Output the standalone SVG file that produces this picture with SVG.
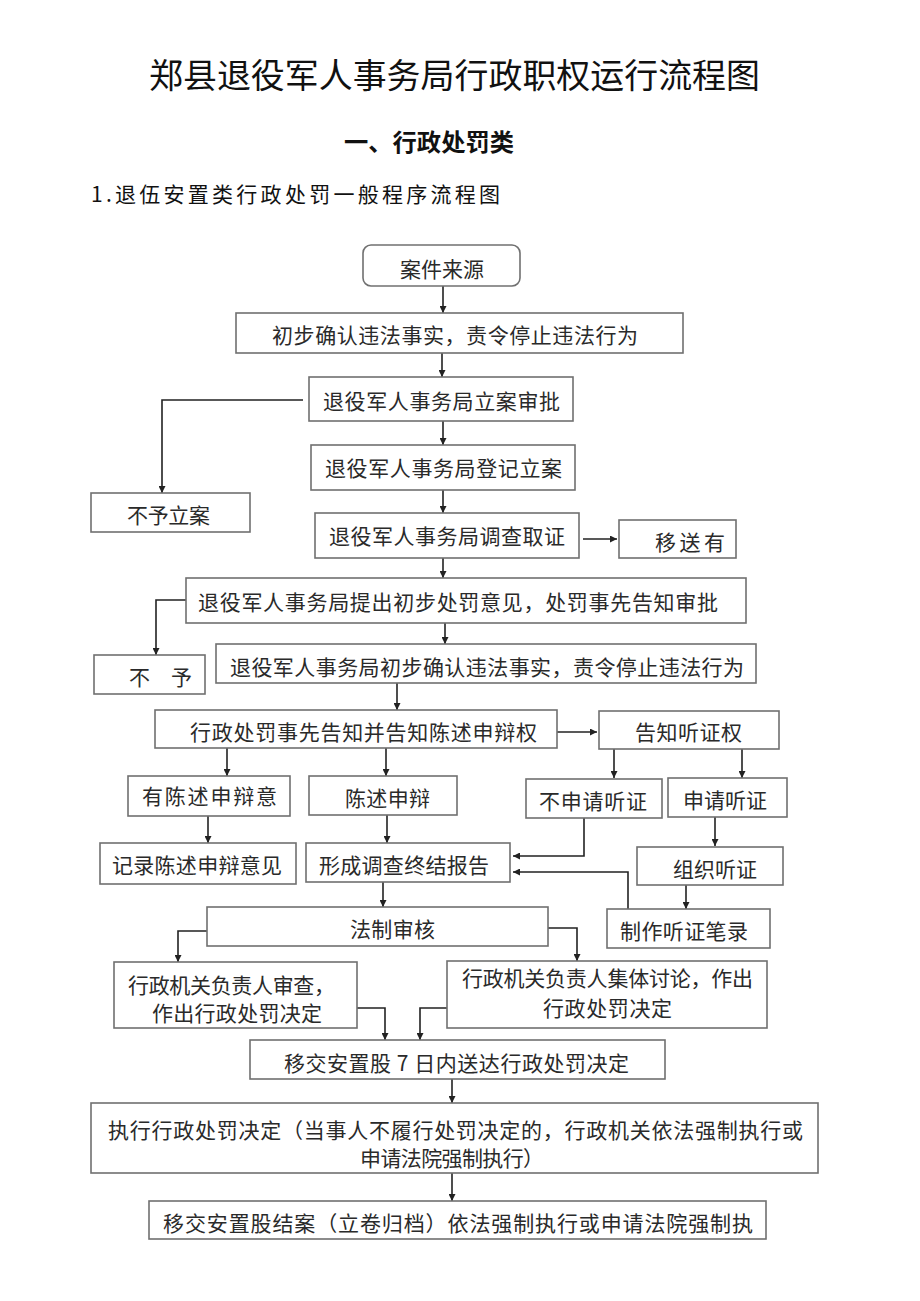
<svg xmlns="http://www.w3.org/2000/svg" width="920" height="1301" viewBox="0 0 920 1301">
<defs>
<marker id="ah" viewBox="0 0 10 10" refX="10" refY="5" markerWidth="10" markerHeight="7" markerUnits="userSpaceOnUse" orient="auto">
<path d="M0,0 L10,5 L0,10 z" fill="#222"/>
</marker>
<style>
.b{fill:#fff;stroke:#707070;stroke-width:1.6}
.t{font-family:"Noto Sans CJK SC","Noto Sans",sans-serif;font-size:21px;fill:#2a2a2a;dominant-baseline:central}
.c{stroke:#222;stroke-width:1.6;fill:none;marker-end:url(#ah)}
.h{font-family:"Noto Sans CJK SC","Noto Sans",sans-serif;fill:#111;dominant-baseline:central}
</style>
</defs>
<rect width="920" height="1301" fill="#fff"/>
<g id="title">
<text class="h" x="149" y="73" font-size="34" textLength="611" lengthAdjust="spacingAndGlyphs">郑县退役军人事务局行政职权运行流程图</text>
<text class="h" x="344" y="140" font-size="24" font-weight="bold" textLength="170" lengthAdjust="spacingAndGlyphs">一、行政处罚类</text>
<text class="h" x="91" y="193" font-size="21" textLength="409" lengthAdjust="spacing">1.退伍安置类行政处罚一般程序流程图</text>
</g>
<g id="connectors">
<path class="c" d="M443,286 V313"/>
<path class="c" d="M442,353 V377"/>
<path class="c" d="M303,400 H162 V493"/>
<path class="c" d="M443,421 V445"/>
<path class="c" d="M443,490 V513"/>
<path class="c" d="M583,539 H617"/>
<path class="c" d="M443,558 V578"/>
<path class="c" d="M186,600 H156 V655"/>
<path class="c" d="M445,623 V644"/>
<path class="c" d="M397,683 V710"/>
<path class="c" d="M557,732 H597"/>
<path class="c" d="M227,748 V776"/>
<path class="c" d="M386,748 V776"/>
<path class="c" d="M614,749 V778"/>
<path class="c" d="M742,749 V778"/>
<path class="c" d="M208,816 V843"/>
<path class="c" d="M387,815 V843"/>
<path class="c" d="M584,818 V856 H513"/>
<path class="c" d="M715,817 V846"/>
<path class="c" d="M686,885 V909"/>
<path class="c" d="M628,909 V872 H513"/>
<path class="c" d="M383,882 V907"/>
<path class="c" d="M207,931 H178 V962"/>
<path class="c" d="M548,928 H577 V961"/>
<path class="c" d="M357,1008 H385 V1040"/>
<path class="c" d="M448,1008 H420 V1040"/>
<path class="c" d="M452,1079 V1103"/>
<path class="c" d="M452,1173 V1201"/>
</g>
<g id="n1"><rect class="b" x="363" y="245" width="157" height="41" rx="8"/><text class="t" x="400" y="268" textLength="84">案件来源</text></g>
<g id="n2"><rect class="b" x="236" y="313" width="447" height="40"/><text class="t" x="272" y="334" textLength="366">初步确认违法事实，责令停止违法行为</text></g>
<g id="n3"><rect class="b" x="309" y="377" width="264" height="44"/><text class="t" x="323" y="400" textLength="237">退役军人事务局立案审批</text></g>
<g id="n4"><rect class="b" x="311" y="445" width="264" height="45"/><text class="t" x="325" y="467" textLength="237">退役军人事务局登记立案</text></g>
<g id="n5"><rect class="b" x="91" y="493" width="159" height="39"/><text class="t" x="127" y="514" textLength="83">不予立案</text></g>
<g id="n6"><rect class="b" x="315" y="513" width="264" height="45"/><text class="t" x="329" y="535" textLength="236">退役军人事务局调查取证</text></g>
<g id="n7"><rect class="b" x="619" y="520" width="117" height="38"/><text class="t" x="655" y="541" textLength="70">移送有</text></g>
<g id="n8"><rect class="b" x="186" y="578" width="560" height="45"/><text class="t" x="198" y="601" textLength="520">退役军人事务局提出初步处罚意见，处罚事先告知审批</text></g>
<g id="n9"><rect class="b" x="94" y="655" width="111" height="39"/><text class="t" x="129" y="676" textLength="63">不　予</text></g>
<g id="n10"><rect class="b" x="216" y="644" width="540" height="39"/><text class="t" x="230" y="666" textLength="514">退役军人事务局初步确认违法事实，责令停止违法行为</text></g>
<g id="n11"><rect class="b" x="155" y="710" width="402" height="38"/><text class="t" x="190" y="731" textLength="347">行政处罚事先告知并告知陈述申辩权</text></g>
<g id="n12"><rect class="b" x="599" y="711" width="180" height="38"/><text class="t" x="635" y="731" textLength="107">告知听证权</text></g>
<g id="n13"><rect class="b" x="128" y="776" width="162" height="40"/><text class="t" x="142" y="795" textLength="135">有陈述申辩意</text></g>
<g id="n14"><rect class="b" x="309" y="776" width="148" height="39"/><text class="t" x="345" y="797" textLength="85">陈述申辩</text></g>
<g id="n15"><rect class="b" x="526" y="779" width="136" height="39"/><text class="t" x="539" y="800" textLength="108">不申请听证</text></g>
<g id="n16"><rect class="b" x="668" y="778" width="119" height="39"/><text class="t" x="683" y="799" textLength="84">申请听证</text></g>
<g id="n17"><rect class="b" x="100" y="843" width="196" height="41"/><text class="t" x="112" y="864" textLength="170">记录陈述申辩意见</text></g>
<g id="n18"><rect class="b" x="306" y="843" width="204" height="39"/><text class="t" x="319" y="864" textLength="170">形成调查终结报告</text></g>
<g id="n19"><rect class="b" x="637" y="847" width="146" height="38"/><text class="t" x="673" y="868" textLength="84">组织听证</text></g>
<g id="n20"><rect class="b" x="207" y="907" width="341" height="39"/><text class="t" x="350" y="928" textLength="85">法制审核</text></g>
<g id="n21"><rect class="b" x="607" y="909" width="163" height="39"/><text class="t" x="620" y="930" textLength="128">制作听证笔录</text></g>
<g id="n22"><rect class="b" x="114" y="962" width="243" height="66"/><text class="t" x="128" y="984" textLength="207">行政机关负责人审查，</text><text class="t" x="152" y="1012" textLength="170">作出行政处罚决定</text></g>
<g id="n23"><rect class="b" x="447" y="961" width="320" height="67"/><text class="t" x="462" y="977" font-size="20" textLength="291">行政机关负责人集体讨论，作出</text><text class="t" x="543" y="1007" font-size="20" textLength="129">行政处罚决定</text></g>
<g id="n24"><rect class="b" x="250" y="1040" width="415" height="39"/><text class="t" x="284" y="1062" textLength="345">移交安置股 7 日内送达行政处罚决定</text></g>
<g id="n25"><rect class="b" x="91" y="1103" width="727" height="70"/><text class="t" x="108" y="1129" textLength="695">执行行政处罚决定（当事人不履行处罚决定的，行政机关依法强制执行或</text><text class="t" x="360" y="1157" textLength="184">申请法院强制执行）</text></g>
<g id="n26"><rect class="b" x="149" y="1201" width="617" height="38"/><text class="t" x="163" y="1222" textLength="590">移交安置股结案（立卷归档）依法强制执行或申请法院强制执</text></g>
</svg>
